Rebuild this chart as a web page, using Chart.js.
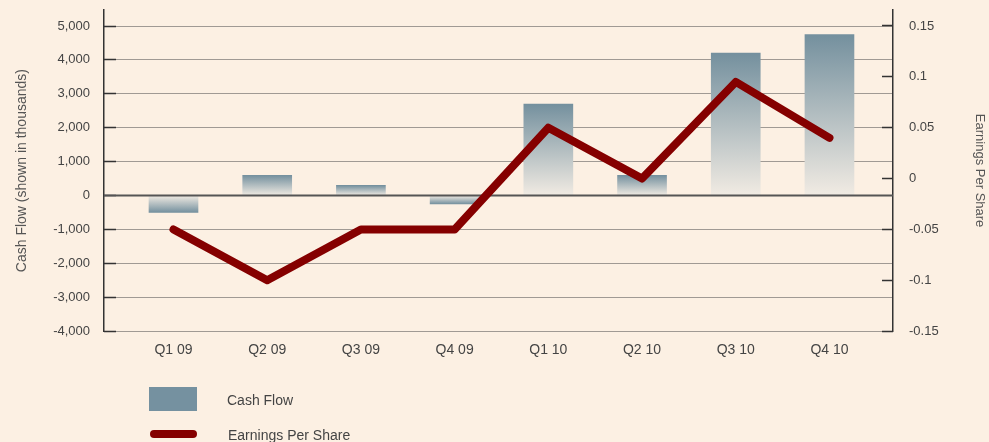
<!DOCTYPE html>
<html><head><meta charset="utf-8">
<script src="https://cdn.jsdelivr.net/npm/chart.js@4/dist/chart.umd.min.js"></script>
<style>
html,body{margin:0;padding:0;background:#fcf0e3;}
#wrap{position:relative;width:989px;height:442px;overflow:hidden;background:#fcf0e3;}
#c{position:absolute;left:0;top:0;}
.lg{position:absolute;font-family:"Liberation Sans",Arial,sans-serif;font-size:14px;line-height:16px;color:#444;white-space:nowrap;}
.sw{position:absolute;}
</style></head><body>
<div id="wrap"><canvas id="c" width="989" height="442"></canvas><div id="legend"></div></div>
<script>
// ---- data ----
const categories = ['Q1 09','Q2 09','Q3 09','Q4 09','Q1 10','Q2 10','Q3 10','Q4 10'];
const cashFlow = [-500, 600, 300, -250, 2700, 600, 4200, 4750];
const eps = [-0.05, -0.10, -0.05, -0.05, 0.05, 0.00, 0.095, 0.04];
const cashTicks = [-4000,-3000,-2000,-1000,0,1000,2000,3000,4000,5000];
const epsTicks = [-0.15,-0.1,-0.05,0,0.05,0.1,0.15];
const seriesNames = ['Cash Flow','Earnings Per Share'];

const FONT = '"Liberation Sans", Arial, sans-serif';
const BAR_TOP = '#74909e', BAR_BASE = '#f1ebe3', LINE_COL = '#850000';
Chart.defaults.font.family = FONT;

function barGradient(c){
  const chart = c.chart, ys = chart.scales && chart.scales.y;
  if (c.type !== 'data' || !ys || !chart.chartArea) return BAR_TOP;
  const v = c.raw.y;
  const p0 = ys.getPixelForValue(0), p1 = ys.getPixelForValue(v);
  if (!isFinite(p0) || !isFinite(p1) || p0 === p1) return BAR_TOP;
  const g = chart.ctx.createLinearGradient(0, p1, 0, p0);
  g.addColorStop(0, BAR_TOP); g.addColorStop(1, BAR_BASE);
  return g;
}
function align(chart, px, w){ const d = chart.currentDevicePixelRatio||1; const h=w/2; return Math.round((px-h)*d)/d+h; }

const extras = {
  id:'extras',
  beforeDatasetsDraw(chart){
    const {ctx, chartArea:a, scales:{y, y2}} = chart;
    ctx.save(); ctx.strokeStyle='#333'; ctx.lineWidth=1.5; ctx.setLineDash([]);
    y.ticks.forEach(t=>{ const p=align(chart,y.getPixelForValue(t.value),1); ctx.beginPath(); ctx.moveTo(a.left,p); ctx.lineTo(a.left+12,p); ctx.stroke(); });
    y2.ticks.forEach(t=>{ const p=align(chart,y2.getPixelForValue(t.value),1); ctx.beginPath(); ctx.moveTo(a.right-11,p); ctx.lineTo(a.right,p); ctx.stroke(); });
    ctx.restore();
  },
  afterDatasetDraw(chart, args){
    if (args.index !== 1) return;
    const {ctx, chartArea:a, scales:{y}} = chart;
    const p = y.getPixelForValue(0);
    ctx.save(); ctx.strokeStyle='#555'; ctx.lineWidth=2; ctx.setLineDash([]); ctx.beginPath(); ctx.moveTo(a.left,p); ctx.lineTo(a.right,p); ctx.stroke(); ctx.restore();
  }
};

const chart = new Chart(document.getElementById('c'), {
  type:'bar',
  data:{
    datasets:[
      { type:'line', label:seriesNames[1], data: eps.map((v,i)=>({x:i,y:v})), yAxisID:'y2', xAxisID:'x',
        borderColor:LINE_COL, borderWidth:8, borderCapStyle:'round', borderJoinStyle:'round',
        pointRadius:0, pointHoverRadius:0, fill:false, tension:0, order:0 },
      { type:'bar', label:seriesNames[0], data: cashFlow.map((v,i)=>({x:i,y:v})), yAxisID:'y', xAxisID:'x',
        backgroundColor: barGradient, borderWidth:0, barThickness:49, order:1 }
    ]
  },
  options:{
    responsive:false, animation:false,
    layout:{ padding:{ top:10, bottom:72, left:0, right:0 } },
    plugins:{ legend:{display:false}, tooltip:{enabled:false} },
    scales:{
      x:{ type:'linear', min:-0.7416, max:7.678, offset:false,
          afterBuildTicks: s=>{ s.ticks = categories.map((c,i)=>({value:i})); },
          ticks:{ callback:(v)=> categories[v] !== undefined ? categories[v] : '', autoSkip:false, maxRotation:0,
                  font:{size:14}, color:'#444', padding:11 },
          grid:{ display:false, drawTicks:false }, border:{ display:false } },
      y:{ position:'left', min:-4000, max:5472,
          afterBuildTicks: s=>{ s.ticks = cashTicks.map(v=>({value:v})); },
          afterFit: s=>{ s.width = 104; s.paddingTop = 0; s.paddingBottom = 0; },
          ticks:{ callback: v => v.toLocaleString('en-US'), font:{size:13}, color:'#444', padding:14 },
          grid:{ drawTicks:false, color:'#444', lineWidth:1 },
          border:{ color:'#333', width:1.5, dash:[1,1] },
          title:{ display:true, text:'Cash Flow (shown in thousands)', font:{size:14}, color:'#555', padding:{top:14,bottom:0} } },
      y2:{ position:'right', min:-0.15, max:0.1657,
          afterBuildTicks: s=>{ s.ticks = epsTicks.map(v=>({value:v})); },
          afterFit: s=>{ s.width = 96; s.paddingTop = 0; s.paddingBottom = 0; },
          ticks:{ callback: v => String(v), font:{size:13}, color:'#444', padding:16 },
          grid:{ display:false, drawTicks:false },
          border:{ color:'#333', width:1.5 },
          title:{ display:true, text:'Earnings Per Share', font:{size:13}, color:'#555', padding:{top:2,bottom:0} } }
    }
  },
  plugins:[extras]
});

// HTML legend built from dataset labels
const lg = document.getElementById('legend');
lg.innerHTML =
  '<div class="sw" style="left:149px;top:387px;width:48px;height:24px;background:#7591a0"></div>' +
  '<div class="lg" style="left:227px;top:392px">' + seriesNames[0] + '</div>' +
  '<div class="sw" style="left:150px;top:430px;width:47px;height:8px;border-radius:4px;background:' + LINE_COL + '"></div>' +
  '<div class="lg" style="left:228px;top:427px">' + seriesNames[1] + '</div>';
</script>
</body></html>
